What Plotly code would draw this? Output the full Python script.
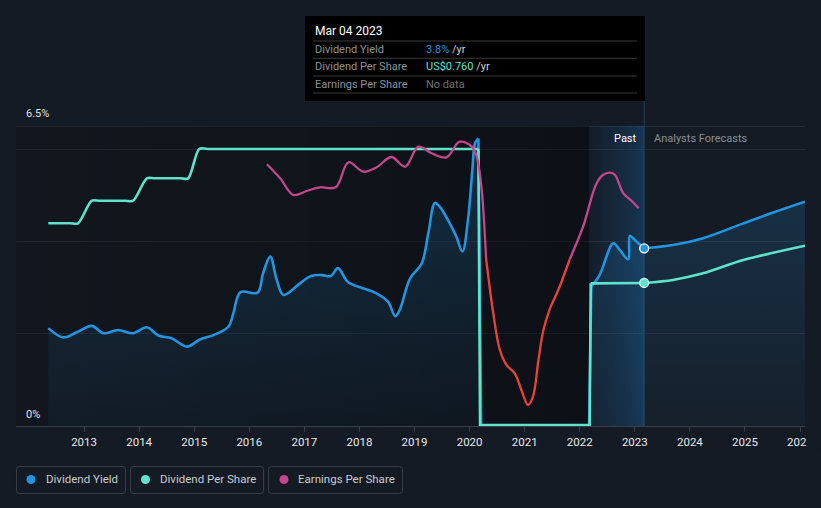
import plotly.graph_objects as go

# ---------------- data ----------------
# Dividend yield (%) - past
yield_years = [2012.35, 2012.62, 2012.87, 2013.14, 2013.35, 2013.62, 2013.89, 2014.14, 2014.35, 2014.59,
               2014.87, 2015.11, 2015.35, 2015.62, 2015.71, 2015.84, 2016.15, 2016.25, 2016.38, 2016.50,
               2016.62, 2016.92, 2017.12, 2017.32, 2017.48, 2017.61, 2017.79, 2018.05, 2018.30, 2018.52,
               2018.65, 2018.73, 2018.92, 2019.13, 2019.25, 2019.37, 2019.46, 2019.64, 2019.76, 2019.87,
               2019.97, 2020.05, 2020.10, 2020.16, 2020.21, 2022.17, 2022.21, 2022.36, 2022.61, 2022.73,
               2022.88, 2022.91, 2023.00, 2023.17]
yield_values = [2.12, 1.92, 2.03, 2.17, 2.01, 2.08, 2.01, 2.14, 1.96, 1.90,
                1.72, 1.88, 1.97, 2.15, 2.44, 2.90, 2.89, 3.31, 3.67, 3.16,
                2.84, 3.09, 3.25, 3.27, 3.25, 3.42, 3.12, 2.99, 2.88, 2.69,
                2.38, 2.51, 3.20, 3.52, 4.17, 4.83, 4.75, 4.39, 4.10, 3.78,
                4.46, 5.55, 6.13, 6.23, 0.0, 0.0, 3.02, 3.27, 3.96, 3.81,
                3.61, 4.12, 4.03, 3.85]
# Dividend yield (%) - analysts forecast
yield_fc_years = [2023.17, 2023.69, 2024.24, 2024.97, 2025.50, 2026.09]
yield_fc_values = [3.85, 3.92, 4.07, 4.39, 4.62, 4.86]

# Dividend per share (US$) - past
dps_years = [2012.35, 2012.75, 2012.89, 2013.14, 2013.28, 2013.75, 2013.89, 2014.14, 2014.28, 2014.75,
             2014.89, 2015.09, 2015.25, 2019.95, 2020.16, 2020.19, 2022.18, 2022.20, 2023.17]
dps_values = [1.077, 1.077, 1.077, 1.197, 1.197, 1.197, 1.197, 1.316, 1.316, 1.316,
              1.316, 1.472, 1.472, 1.472, 1.472, 0.005, 0.005, 0.758, 0.760]
# Dividend per share (US$) - analysts forecast
dps_fc_years = [2023.17, 2023.69, 2024.24, 2024.97, 2026.09]
dps_fc_values = [0.760, 0.776, 0.811, 0.882, 0.958]

# Earnings per share (relative units, 0 = sign change)
eps_years = [2016.32, 2016.56, 2016.80, 2017.04, 2017.28, 2017.57, 2017.80, 2018.07, 2018.31, 2018.58,
             2018.83, 2019.07, 2019.31, 2019.58, 2019.82, 2020.04, 2020.13, 2020.22, 2020.26, 2020.30,
             2020.43, 2020.55, 2020.67, 2020.82, 2020.94, 2021.06, 2021.15, 2021.25, 2021.34, 2021.46,
             2021.61, 2021.82, 2022.06, 2022.30, 2022.42, 2022.55, 2022.64, 2022.79, 2022.94, 2023.07]
eps_values = [0.947, 0.807, 0.640, 0.680, 0.717, 0.717, 0.967, 0.873, 0.917, 1.020,
              0.923, 1.123, 1.057, 1.017, 1.173, 1.123, 1.023, 0.690, 0.390, 0.0,
              -0.543, -0.910, -1.060, -1.143, -1.310, -1.460, -1.377, -1.010, -0.710, -0.493,
              -0.310, 0.0, 0.323, 0.750, 0.840, 0.863, 0.840, 0.657, 0.583, 0.507]

year_ticks = list(range(2013, 2027))
year_labels = [str(y) for y in year_ticks]

today = 2023.17
past_band_start = 2022.17

# ---------------- style ----------------
BG = "#151b24"
BLUE = "#2394df"
TEAL = "#5fe3cb"
PURPLE = "#c4478c"
RED = "#e8433b"
GRID = "#262b34"
ROBOTO = "Roboto, sans-serif"

W, H = 821, 508
ML, MR, MT, MB = 16, 16, 126, 82
PW, PH = W - ML - MR, H - MT - MB
X_RANGE = [2011.764, 2026.09]


def fx(px):
    return (px - ML) / PW


def fy(py):
    return (MT + PH - py) / PH


def split_sharp(xs, ys, lo, hi):
    a, b = xs.index(lo), xs.index(hi)
    return [(xs[:a + 1], ys[:a + 1], "spline"),
            (xs[a:b + 1], ys[a:b + 1], "linear"),
            (xs[b:], ys[b:], "spline")]


def sign_segments(xs, ys):
    segs, cur_x, cur_y = [], [xs[0]], [ys[0]]
    for x, y in zip(xs[1:], ys[1:]):
        cur_x.append(x)
        cur_y.append(y)
        if y == 0:
            segs.append((cur_x, cur_y))
            cur_x, cur_y = [x], [y]
    if len(cur_x) > 1:
        segs.append((cur_x, cur_y))
    return segs


fig = go.Figure()

# past background (darkening gradient)
fig.add_trace(go.Scatter(
    x=[X_RANGE[0], past_band_start, past_band_start, X_RANGE[0], X_RANGE[0]],
    y=[0, 0, 6.5, 6.5, 0], mode="lines", line=dict(width=0), fill="toself",
    fillgradient=dict(type="horizontal",
                      colorscale=[[0, "rgba(0,0,0,0.14)"], [1, "rgba(0,0,0,0.38)"]]),
    hoverinfo="skip", showlegend=False))
# "Past" band
fig.add_trace(go.Scatter(
    x=[past_band_start, today, today, past_band_start, past_band_start],
    y=[0, 0, 6.5, 6.5, 0], mode="lines", line=dict(width=0), fill="toself",
    fillgradient=dict(type="horizontal",
                      colorscale=[[0, "rgba(20,80,140,0.06)"], [1, "rgba(30,110,180,0.32)"]]),
    hoverinfo="skip", showlegend=False))

blue_fill = dict(type="vertical", start=0, stop=6.5,
                 colorscale=[[0, "rgba(35,148,223,0.04)"], [1, "rgba(35,148,223,0.22)"]])

# Dividend yield
for xs, ys, shp in split_sharp(yield_years, yield_values, 2020.16, 2022.21) + [
        (yield_fc_years, yield_fc_values, "spline")]:
    fig.add_trace(go.Scatter(
        x=xs, y=ys, mode="lines", line=dict(color=BLUE, width=2.6, shape=shp, smoothing=1),
        fill="tozeroy", fillgradient=blue_fill, hoverinfo="skip", showlegend=False))

# Dividend per share
for xs, ys, shp in split_sharp(dps_years, dps_values, 2020.16, 2022.20) + [
        (dps_fc_years, dps_fc_values, "spline")]:
    fig.add_trace(go.Scatter(
        x=xs, y=ys, yaxis="y2", mode="lines",
        line=dict(color=TEAL, width=2.6, shape=shp, smoothing=0.8),
        hoverinfo="skip", showlegend=False))

# Earnings per share
for xs, ys in sign_segments(eps_years, eps_values):
    col = RED if min(ys) < 0 else PURPLE
    fig.add_trace(go.Scatter(
        x=xs, y=ys, yaxis="y3", mode="lines",
        line=dict(color=col, width=2.3, shape="spline", smoothing=1),
        hoverinfo="skip", showlegend=False))

# current markers
fig.add_trace(go.Scatter(x=[today], y=[yield_fc_values[0]], mode="markers",
                         marker=dict(size=9, color=BLUE, line=dict(color="#ffffff", width=1.3)),
                         hoverinfo="skip", showlegend=False))
fig.add_trace(go.Scatter(x=[today], y=[dps_fc_values[0]], yaxis="y2", mode="markers",
                         marker=dict(size=9, color=TEAL, line=dict(color="#d8fff5", width=1.3)),
                         hoverinfo="skip", showlegend=False))

shapes = []
annotations = []

# top 6.5% line
shapes.append(dict(type="line", xref="paper", yref="y", x0=0, x1=1, y0=6.5, y1=6.5,
                   line=dict(color="#3a3f48", width=1), layer="below"))
# today vertical line
shapes.append(dict(type="line", xref="x", yref="paper", x0=today, x1=today, y0=0, y1=fy(101),
                   line=dict(color="#1a4262", width=1), layer="below"))

# tooltip
shapes.append(dict(type="rect", xref="paper", yref="paper", x0=fx(305), x1=fx(645),
                   y0=fy(101), y1=fy(16), fillcolor="#000000", line=dict(width=0), layer="above"))
for sy in [41, 58.3, 76, 93]:
    shapes.append(dict(type="line", xref="paper", yref="paper", x0=fx(313), x1=fx(637),
                       y0=fy(sy), y1=fy(sy), line=dict(color="#3a3a3a", width=1), layer="above"))
annotations.append(dict(xref="paper", yref="paper", x=fx(313), y=fy(31), xanchor="left",
                        yanchor="middle", text="Mar 04 2023", showarrow=False,
                        font=dict(family=ROBOTO, size=12, color="#ffffff")))
rows = [
    ("Dividend Yield", f"<span style='color:{BLUE}'>3.8%</span> /yr"),
    ("Dividend Per Share", f"<span style='color:{TEAL}'>US$0.760</span> /yr"),
    ("Earnings Per Share", "<span style='color:#6c7178'>No data</span>"),
]
for (lab, val), ry in zip(rows, [49.5, 66.5, 84]):
    annotations.append(dict(xref="paper", yref="paper", x=fx(313), y=fy(ry), xanchor="left",
                            yanchor="middle", text=lab, showarrow=False,
                            font=dict(family=ROBOTO, size=11, color="#8e939a")))
    annotations.append(dict(xref="paper", yref="paper", x=fx(424), y=fy(ry), xanchor="left",
                            yanchor="middle", text=val, showarrow=False,
                            font=dict(family=ROBOTO, size=11, color="#d0d0d0")))

# y labels
annotations.append(dict(xref="paper", yref="paper", x=fx(24), y=fy(114), xanchor="left",
                        yanchor="middle", text="6.5%", showarrow=False,
                        font=dict(family=ROBOTO, size=11, color="#e0e0e0")))
annotations.append(dict(xref="paper", yref="paper", x=fx(24), y=fy(414), xanchor="left",
                        yanchor="middle", text="0%", showarrow=False,
                        font=dict(family=ROBOTO, size=11, color="#e0e0e0")))
# Past / forecasts labels
annotations.append(dict(xref="paper", yref="paper", x=fx(639), y=fy(138), xanchor="right",
                        yanchor="middle", text="Past", showarrow=False,
                        font=dict(family=ROBOTO, size=11, color="#ffffff")))
annotations.append(dict(xref="paper", yref="paper", x=fx(652), y=fy(138), xanchor="left",
                        yanchor="middle", text="Analysts Forecasts", showarrow=False,
                        font=dict(family=ROBOTO, size=11, color="#8a8f96")))

# clip the last year label at the chart edge
annotations.append(dict(xref="paper", yref="paper", x=fx(806), y=fy(431), xanchor="left",
                        yanchor="top", text=" ", showarrow=False, bgcolor=BG,
                        width=13, height=18, borderpad=0))


def rounded_rect(x0, y0, x1, y1, r):
    X = lambda v: f"{fx(v):.5f}"
    Y = lambda v: f"{fy(v):.5f}"
    return (f"M {X(x0 + r)},{Y(y0)} L {X(x1 - r)},{Y(y0)} Q {X(x1)},{Y(y0)} {X(x1)},{Y(y0 + r)} "
            f"L {X(x1)},{Y(y1 - r)} Q {X(x1)},{Y(y1)} {X(x1 - r)},{Y(y1)} "
            f"L {X(x0 + r)},{Y(y1)} Q {X(x0)},{Y(y1)} {X(x0)},{Y(y1 - r)} "
            f"L {X(x0)},{Y(y0 + r)} Q {X(x0)},{Y(y0)} {X(x0 + r)},{Y(y0)} Z")


# legend
legend_items = [("Dividend Yield", BLUE, 16.5, 125.5, 31, 44),
                ("Dividend Per Share", TEAL, 130.5, 263.5, 145.5, 158),
                ("Earnings Per Share", PURPLE, 268.5, 402.5, 284, 296)]
for name, col, bx0, bx1, dx, tx in legend_items:
    shapes.append(dict(type="path", xref="paper", yref="paper",
                       path=rounded_rect(bx0, 466.5, bx1, 493.5, 3),
                       line=dict(color="#3a3f48", width=1), fillcolor="rgba(0,0,0,0)"))
    shapes.append(dict(type="circle", xref="paper", yref="paper", x0=fx(dx - 4.5), x1=fx(dx + 4.5),
                       y0=fy(484), y1=fy(475), fillcolor=col, line=dict(width=0)))
    annotations.append(dict(xref="paper", yref="paper", x=fx(tx), y=fy(479.5), xanchor="left",
                            yanchor="middle", text=name, showarrow=False,
                            font=dict(family=ROBOTO, size=11.5, color="#c8ccd2")))

fig.update_layout(
    width=W, height=H,
    margin=dict(l=ML, r=MR, t=MT, b=MB, autoexpand=False),
    paper_bgcolor=BG, plot_bgcolor=BG,
    showlegend=False,
    xaxis=dict(range=X_RANGE, tickvals=year_ticks, ticktext=year_labels, showgrid=False,
               zeroline=False, showline=True, linecolor="#3b4048", linewidth=1,
               ticks="outside", ticklen=5, tickcolor="#3b4048",
               tickfont=dict(family=ROBOTO, size=11.5, color="#e8e8e8"), fixedrange=True),
    yaxis=dict(range=[0, 6.5], tickvals=[2, 4, 6], showticklabels=False, gridcolor=GRID,
               gridwidth=1, zeroline=False, fixedrange=True),
    yaxis2=dict(range=[0, 1.594], overlaying="y", visible=False, fixedrange=True),
    yaxis3=dict(range=[-1.67, 1.33], overlaying="y", visible=False, fixedrange=True),
    shapes=shapes,
    annotations=annotations,
)

fig.write_html("out.html", config={"displayModeBar": False},
               post_script="document.body.style.margin='0px';"
                           "document.body.style.background='" + BG + "';")
